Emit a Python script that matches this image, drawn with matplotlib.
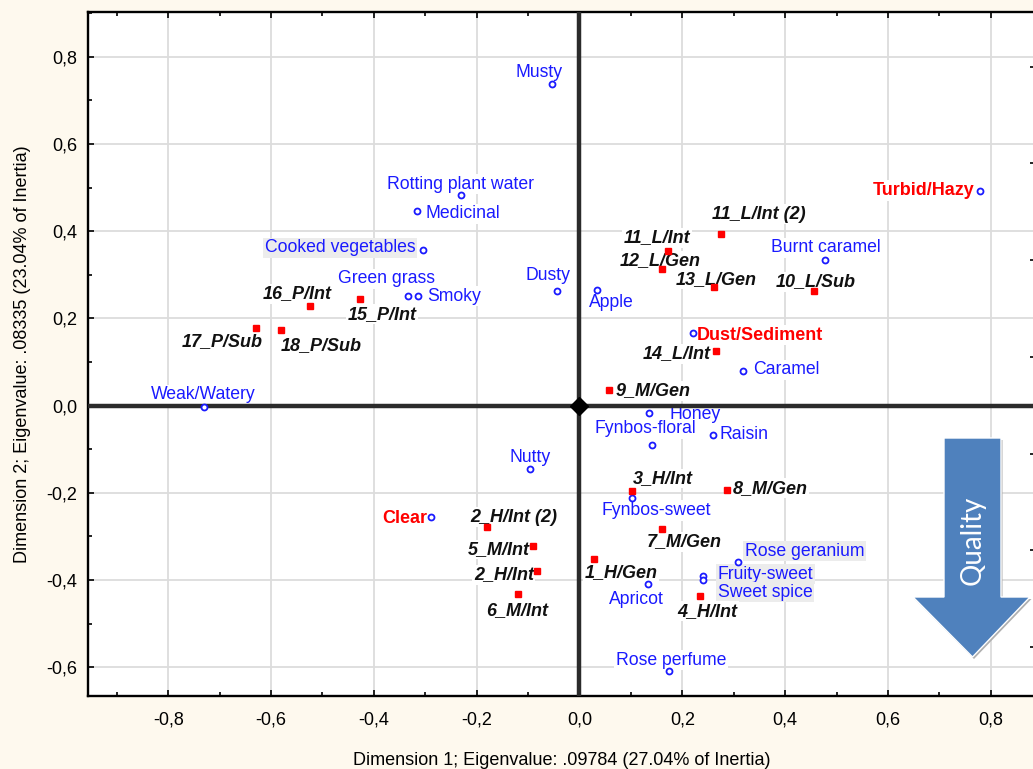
import numpy as np
import matplotlib
matplotlib.use('Agg')
import matplotlib.pyplot as plt
from matplotlib.patches import Polygon
from matplotlib.ticker import MultipleLocator, FuncFormatter

# column points (sensory attributes)
attr_names = ['Musty', 'Rotting plant water', 'Medicinal', 'Cooked vegetables', 'Green grass',
              'Smoky', 'Dusty', 'Apple', 'Burnt caramel', 'Turbid/Hazy', 'Dust/Sediment',
              'Caramel', 'Weak/Watery', 'Honey', 'Fynbos-floral', 'Raisin', 'Nutty', 'Clear',
              'Fynbos-sweet', 'Rose geranium', 'Fruity-sweet', 'Sweet spice', 'Apricot',
              'Rose perfume']
attr_x = [-0.054, -0.231, -0.316, -0.305, -0.334, -0.315, -0.044, 0.034, 0.478, 0.779, 0.221,
          0.318, -0.731, 0.135, 0.142, 0.259, -0.096, -0.289, 0.103, 0.308, 0.240, 0.240,
          0.133, 0.174]
attr_y = [0.737, 0.482, 0.447, 0.357, 0.252, 0.251, 0.263, 0.265, 0.334, 0.493, 0.166,
          0.080, -0.003, -0.018, -0.090, -0.067, -0.145, -0.255, -0.213, -0.359, -0.391,
          -0.400, -0.409, -0.609]
appearance_terms = ['Turbid/Hazy', 'Dust/Sediment', 'Clear']
shaded_terms = ['Cooked vegetables', 'Rose geranium', 'Fruity-sweet', 'Sweet spice']

# row points (samples)
sample_names = ['16_P/Int', '17_P/Sub', '18_P/Sub', '15_P/Int', '11_L/Int', '12_L/Gen',
                '11_L/Int (2)', '13_L/Gen', '10_L/Sub', '14_L/Int', '9_M/Gen', '3_H/Int',
                '8_M/Gen', '2_H/Int (2)', '5_M/Int', '7_M/Gen', '1_H/Gen', '2_H/Int',
                '6_M/Int', '4_H/Int']
sample_x = [-0.524, -0.629, -0.581, -0.427, 0.172, 0.161, 0.276, 0.262, 0.456, 0.265, 0.057,
            0.103, 0.286, -0.179, -0.090, 0.161, 0.028, -0.083, -0.120, 0.234]
sample_y = [0.229, 0.178, 0.174, 0.244, 0.355, 0.314, 0.393, 0.271, 0.263, 0.126, 0.036,
            -0.197, -0.194, -0.279, -0.321, -0.283, -0.352, -0.379, -0.433, -0.437]

# label placement: (dx px, dy px, ha)
attr_offsets = [(-13, 12, 'center'), (0, 11, 'center'), (8, -3, 'left'), (-7, 2, 'right'),
                (-21, 17, 'center'), (10, 0, 'left'), (-9, 15, 'center'), (14, -12, 'center'),
                (1, 12, 'center'), (-5, 0, 'right'), (4, -2, 'left'), (10, 1, 'left'),
                (0, 12, 'center'), (21, -1, 'left'), (-7, 16, 'center'), (7, 0, 'left'),
                (0, 11, 'center'), (-4, -2, 'right'), (24, -12, 'center'), (7, 11, 'left'),
                (15, 2, 'left'), (15, -12, 'left'), (-11, -16, 'center'), (2, 11, 'center')]
sample_offsets = [(-13, 12, 'center'), (-34, -14, 'center'), (40, -16, 'center'),
                  (22, -15, 'center'), (-11, 13, 'center'), (-2, 8, 'center'),
                  (37, 20, 'center'), (2, 8, 'center'), (2, 9, 'center'), (-5, -3, 'right'),
                  (7, -1, 'left'), (30, 13, 'center'), (6, 2, 'left'), (26, 10, 'center'),
                  (-3, -4, 'right'), (22, -13, 'center'), (27, -13, 'center'),
                  (-3, -4, 'right'), (-1, -16, 'center'), (8, -15, 'center')]

bg = '#fef9ee'
W, H = 1033, 769
fig = plt.figure(figsize=(W / 100, H / 100), dpi=100, facecolor=bg)
plt.rcParams['font.family'] = ['Liberation Sans', 'DejaVu Sans']

ax = fig.add_axes([88 / W, 1 - 696 / H, (1036 - 88) / W, (696 - 12) / H])
ax.set_facecolor('white')
ax.set_xlim(-0.956, 0.888)
ax.set_ylim(-0.666, 0.9025)

ax.xaxis.set_major_locator(MultipleLocator(0.2))
ax.xaxis.set_minor_locator(MultipleLocator(0.1))
ax.yaxis.set_major_locator(MultipleLocator(0.2))
ax.yaxis.set_minor_locator(MultipleLocator(0.1))
comma = FuncFormatter(lambda v, p: ('%.1f' % v).replace('.', ',').replace('-0,0', '0,0'))
ax.xaxis.set_major_formatter(comma)
ax.yaxis.set_major_formatter(comma)
ax.tick_params(which='both', direction='in', top=True, right=False, labelsize=13,
               length=4, width=1.2, colors='black', pad=8)
ax.tick_params(axis='x', which='major', pad=11)
ax.tick_params(which='minor', length=3)
ax.grid(True, which='major', color='#dcdcdc', linewidth=1.3, zorder=0)
ax.set_axisbelow(True)
for s in ax.spines.values():
    s.set_linewidth(1.7)
ax.spines['right'].set_visible(False)

ax.set_xlabel('Dimension 1; Eigenvalue: .09784 (27.04% of Inertia)', fontsize=13, labelpad=17)
ax.set_ylabel('Dimension 2; Eigenvalue: .08335 (23.04% of Inertia)', fontsize=13, labelpad=11)

# origin cross
ax.axhline(0, color='#2b2b2b', linewidth=3.2, zorder=4.5)
ax.axvline(0, color='#2b2b2b', linewidth=3.2, zorder=4.5)
ax.plot(0, 0, marker='D', color='black', markersize=9, zorder=4.6)

ax.plot(attr_x, attr_y, linestyle='none', marker='o', markersize=4.3, markerfacecolor='white',
        markeredgecolor='#1a1aff', markeredgewidth=1.3, zorder=5)
ax.plot(sample_x, sample_y, linestyle='none', marker='s', markersize=4.8, color='#ff0000',
        zorder=5)

for name, x, y, (dx, dy, ha) in zip(attr_names, attr_x, attr_y, attr_offsets):
    if name in appearance_terms:
        kw = dict(color='#ff0000', fontweight='bold', fontsize=13)
    else:
        kw = dict(color='#1a1aff', fontsize=12.7)
    face = '#ececec' if name in shaded_terms else 'white'
    ax.annotate(name, (x, y), xytext=(dx, dy), textcoords='offset pixels', ha=ha, va='center',
                bbox=dict(facecolor=face, edgecolor='none', pad=1.2), zorder=4, **kw)

for name, x, y, (dx, dy, ha) in zip(sample_names, sample_x, sample_y, sample_offsets):
    ax.annotate(name, (x, y), xytext=(dx, dy), textcoords='offset pixels', ha=ha, va='center',
                fontsize=13, fontweight='bold', fontstyle='italic', color='#111111',
                bbox=dict(facecolor='white', edgecolor='none', pad=1.0), zorder=4)

# tick marks of the neighbouring scale on the right
ax2 = ax.twinx()
ax2.set_ylim(0, 7.073)
ax2.set_yticks([0.507 + i for i in range(7)])
ax2.tick_params(axis='y', direction='in', length=4.5, width=1.2, labelright=False)
for s in ax2.spines.values():
    s.set_visible(False)

# quality arrow
def px(x, y):
    return (x / W, 1 - y / H)

arrow = [px(944, 438), px(1001, 438), px(1001, 597), px(1030, 597), px(972.5, 657),
         px(913, 597), px(944, 597)]
shadow = [(u + 1.5 / W, v - 2 / H) for u, v in arrow]
fig.patches.append(Polygon(shadow, closed=True, transform=fig.transFigure,
                           facecolor='#b0b0b0', edgecolor='none', zorder=8))
fig.patches.append(Polygon(arrow, closed=True, transform=fig.transFigure,
                           facecolor='#4f81bd', edgecolor='white', linewidth=1.0, zorder=9))
fig.text(972.5 / W, 1 - 540 / H, 'Quality', rotation=90, color='white', fontsize=20,
         family='Lato', ha='center', va='center', zorder=10)

fig.savefig('out.png', dpi=100, facecolor=bg)
